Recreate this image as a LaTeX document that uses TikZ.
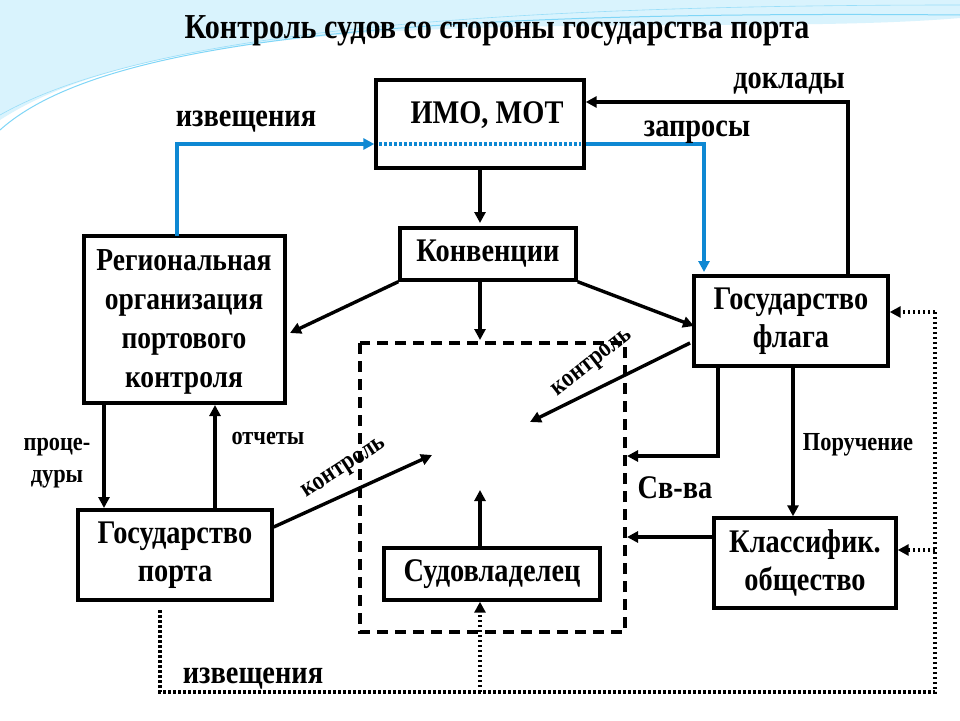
\documentclass[tikz,border=0pt]{standalone}
\usepackage{fontspec}
\setmainfont{Liberation Serif}[FakeStretch=0.86]
\usetikzlibrary{arrows.meta}
\begin{document}
\begin{tikzpicture}[x=1pt,y=-1pt,
  box/.style={draw,line width=3.4pt,fill=white,inner sep=0pt},
  arr/.style={line width=3.4pt,-{Triangle[length=11pt,width=11pt]}},
  barr/.style={line width=3.4pt,color=cyan!70!blue,-{Triangle[length=11pt,width=11pt]}},
  dotl/.style={line width=3.4pt,dash pattern=on 2.5pt off 2.5pt},
  lbl/.style={font=\bfseries\fontsize{33}{36}\selectfont,align=center},
  ml/.style={font=\bfseries\fontsize{33}{38}\selectfont,align=center},
  sl/.style={font=\bfseries\fontsize{26}{28}\selectfont,align=center}]
\useasboundingbox (0,0) rectangle (960,720);
\fill[white] (0,0) rectangle (960,720);
\fill[cyan!15] (0,0) -- (960,0) -- (960,18) .. controls (700,40) and (200,-10) .. (0,120) -- cycle;
\draw[cyan!50,line width=1pt] (0,130) .. controls (100,40) and (400,10) .. (960,15);
\draw[cyan!40,line width=0.6pt] (0,115) .. controls (150,30) and (500,5) .. (960,5);
\node[font=\bfseries\fontsize{35}{38}\selectfont] (title) at (497,31) {Контроль судов со стороны государства порта};
% boxes
\node[box,minimum width=208pt,minimum height=88pt] (imo) at (480,124) {};
\node[lbl] (imot) at (487,115) {ИМО, МОТ};
\node[box,minimum width=176pt,minimum height=52pt,lbl] (konv) at (488,254) {Конвенции};
\node[box,minimum width=201pt,minimum height=167pt] (reg) at (184.5,319.5) {};
\node[ml,font=\bfseries\fontsize{32}{39}\selectfont] (regt) at (184,322) {Региональная\\организация\\портового\\контроля};
\node[box,minimum width=194pt,minimum height=90pt,ml] (flag) at (791,321) {Государство\\флага};
\node[box,minimum width=194pt,minimum height=90pt,ml] (port) at (175,555) {Государство\\порта};
\draw[line width=3.4pt,dash pattern=on 11pt off 7pt] (360,343) rectangle (625,632);
\node[box,minimum width=216pt,minimum height=52pt,lbl] (own) at (492,574) {Судовладелец};
\node[box,minimum width=182pt,minimum height=90pt,ml] (cls) at (805,563) {Классифик.\\общество};
\coordinate (c1) at (530,422);
\coordinate (c2) at (432,455);
\coordinate (c3) at (480,490);
\coordinate (k0) at (480,168);
\coordinate (k1) at (480,223);
% arrows
\draw[arr] (k0) -- (k1);
\draw[arr] (konv.south west) -- (290,333);
\draw[arr] (480,280) -- (480,340);
\draw[arr] (konv.south east) -- (694,326);
\draw[barr] (177,236) -- (177,144) -- (imo.west |- 0,144);
\draw[line width=3.4pt,color=cyan!70!blue,dash pattern=on 2.5pt off 2.5pt] (379,144) -- (581,144);
\draw[barr] (imo.east |- 0,144) -- (704,144) -- (704,272);
\draw[arr] (848,276) -- (848,102) -- (imo.east |- 0,102);
\draw[arr] (690,343) -- (c1);
\draw[arr] (718,366) -- (718,456) -- (627,456);
\draw[arr] (793,366) -- (cls.north -| 793,0);
\draw[arr] (cls.west |- 0,537) -- (627,537);
\draw[arr] (104,403) -- (104,508);
\draw[arr] (215,510) -- (215,405);
\draw[arr] (port.east |- 0,527) -- (c2);
\draw[arr] (own.north -| 480,0) -- (c3);
\draw[dotl] (160,610) -- (160,692) -- (935,692) -- (935,312);
\draw[dotl,-{Triangle[length=11pt,width=11pt]}] (935,312) -- (flag.east |- 0,312);
\draw[dotl,-{Triangle[length=11pt,width=11pt]}] (935,550) -- (cls.east |- 0,550);
\draw[dotl,-{Triangle[length=11pt,width=11pt]}] (480,692) -- (own.south -| 480,0);
% labels
\node[lbl] (l1) at (246,122) {извещения};
\node[lbl] (l2) at (697,132) {запросы};
\node[lbl] (l3) at (789,84) {доклады};
\node[lbl] (l4) at (253,679) {извещения};
\node[lbl] (l5) at (675,488) {Св-ва};
\node[sl] (l6) at (858,445) {Поручение};
\node[sl,font=\bfseries\fontsize{26}{32}\selectfont] (l7) at (57,463) {проце-\\дуры};
\node[sl] (l8) at (268,438) {отчеты};
\node[sl,rotate=38] (l9) at (593,364) {контроль};
\node[sl,rotate=33] (l10) at (345,469) {контроль};
\end{tikzpicture}
\end{document}
